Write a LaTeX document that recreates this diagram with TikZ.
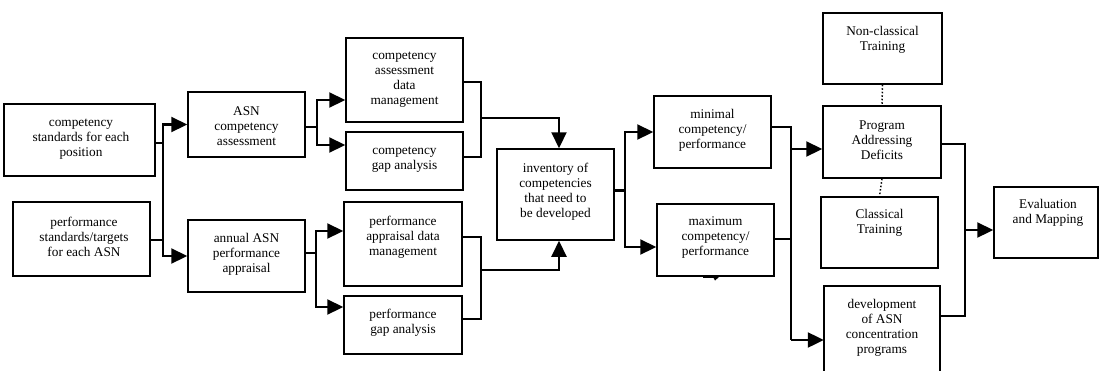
\documentclass[tikz,border=0pt]{standalone}
\usepackage{fontspec}
\setmainfont{Liberation Serif}
\usetikzlibrary{arrows.meta}
\begin{document}
\begin{tikzpicture}[x=1pt,y=-1pt,
  box/.style={draw, line width=1.5pt, rectangle, inner sep=0pt},
  txt/.style={align=center, font=\fontsize{13.3}{15}\selectfont, inner sep=0pt},
  conn/.style={line width=2.2pt},
  arr/.style={line width=2.2pt, -{Triangle[length=16pt 0 0,width=15pt 0 0]}},
  dots/.style={line width=1.5pt, dotted}]
\useasboundingbox (0,0) rectangle (1099,370);

% boxes
\node[box, minimum width=151pt, minimum height=72pt] (b1) at (79.5,140) {};
\node[box, minimum width=137pt, minimum height=74pt] (b2) at (81.5,239) {};
\node[box, minimum width=117pt, minimum height=65pt] (asn) at (246.5,124.5) {};
\node[box, minimum width=117pt, minimum height=72pt] (ann) at (246.5,256) {};
\node[box, minimum width=117pt, minimum height=84pt] (cadm) at (404.5,80) {};
\node[box, minimum width=117pt, minimum height=58pt] (cgap) at (404.5,161) {};
\node[box, minimum width=118pt, minimum height=84pt] (padm) at (403,244) {};
\node[box, minimum width=118pt, minimum height=58pt] (pgap) at (403,325) {};
\node[box, minimum width=117pt, minimum height=91pt] (inv) at (555.5,194.5) {};
\node[box, minimum width=117pt, minimum height=72pt] (mini) at (712.5,132) {};
\node[box, minimum width=117pt, minimum height=72pt] (maxi) at (715.5,240) {};
\node[box, minimum width=119pt, minimum height=71pt] (non) at (882.5,48.5) {};
\node[box, minimum width=118pt, minimum height=72pt] (prog) at (882,142) {};
\node[box, minimum width=117pt, minimum height=71pt] (cls) at (879.5,232.5) {};
\node[inner sep=0pt, minimum width=116pt, minimum height=86pt] (dev) at (882,329) {};
\draw[line width=1.5pt] (dev.south west) -- (dev.north west) -- (dev.north east) -- (dev.south east);
\node[box, minimum width=104pt, minimum height=71pt] (eval) at (1046,222.5) {};

% texts
\node[txt] (t-b1) at (81,139) {competency\\standards for each\\position};
\node[txt] (t-b2) at (84,237) {performance\\standards/targets\\for each ASN};
\node[txt] (t-asn) at (246.5,126) {ASN\\competency\\assessment};
\node[txt] (t-ann) at (246.5,254) {annual ASN\\performance\\appraisal};
\node[txt] (t-cadm) at (404.5,80) {competency\\assessment\\data\\management};
\node[txt] (t-cgap) at (404.5,160) {competency\\gap analysis};
\node[txt] (t-padm) at (403,237) {performance\\appraisal data\\management};
\node[txt] (t-pgap) at (403,323) {performance\\gap analysis};
\node[txt] (t-inv) at (555.5,192) {inventory of\\competencies\\that need to\\be developed};
\node[txt] (t-mini) at (712.5,130) {minimal\\competency/\\performance};
\node[txt] (t-maxi) at (715.5,238) {maximum\\competency/\\performance};
\node[txt] (t-non) at (882.5,40) {Non-classical\\Training};
\node[txt] (t-prog) at (882,140) {Program\\Addressing\\Deficits};
\node[txt] (t-cls) at (879.5,223) {Classical\\Training};
\node[txt] (t-dev) at (882,328) {development\\of ASN\\concentration\\programs};
\node[txt] (t-eval) at (1048,213) {Evaluation\\and Mapping};

% junction coordinates
\coordinate (J1) at (163,0);
\coordinate (J2) at (317,0);
\coordinate (J3) at (316,0);
\coordinate (J6) at (625,0);
\coordinate (J7) at (791,0);

% anchor points
\coordinate (b1E) at ([yshift=-3pt]b1.east);
\coordinate (b2E) at ([yshift=-1pt]b2.east);
\coordinate (asnE) at ([yshift=-2.5pt]asn.east);
\coordinate (annE) at ([yshift=3pt]ann.east);
\coordinate (cadmW) at ([yshift=-20pt]cadm.west);
\coordinate (cgapW) at ([yshift=16pt]cgap.west);
\coordinate (padmW) at ([yshift=13pt]padm.west);
\coordinate (pgapW) at ([yshift=18pt]pgap.west);
\coordinate (cadmE) at ([yshift=-2pt]cadm.east);
\coordinate (cgapE) at ([yshift=4pt]cgap.east);
\coordinate (padmE) at ([yshift=7pt]padm.east);
\coordinate (pgapE) at ([yshift=6pt]pgap.east);
\coordinate (invN) at ([xshift=3.5pt]inv.north);
\coordinate (invS) at ([xshift=3.5pt]inv.south);
\coordinate (invE) at ([yshift=4pt]inv.east);
\coordinate (maxiW) at ([yshift=-7pt]maxi.west);
\coordinate (miniE) at ([yshift=5pt]mini.east);
\coordinate (maxiE) at ([yshift=1pt]maxi.east);
\coordinate (progW) at ([yshift=-7pt]prog.west);
\coordinate (devW) at ([yshift=-11pt]dev.west);
\coordinate (progE) at ([yshift=-2pt]prog.east);
\coordinate (devE) at ([yshift=13pt]dev.east);
\coordinate (evalW) at ([yshift=-7.5pt]eval.west);
\coordinate (top4) at (481,118);
\coordinate (bot5) at (481,270);
\coordinate (mid8) at (965,230);

% stage 1
\draw[conn] (b1E) -- (b1E -| J1);
\draw[conn] (b2E) -- (b2E -| J1);
\draw[arr] (b1E -| J1) |- (asn.west);
\draw[arr] (b1E -| J1) |- (ann.west);
% stage 2
\draw[conn] (asnE) -- (asnE -| J2);
\draw[arr] (asnE -| J2) |- (cadmW);
\draw[arr] (asnE -| J2) |- (cgapW);
\draw[conn] (annE) -- (annE -| J3);
\draw[arr] (annE -| J3) |- (padmW);
\draw[arr] (annE -| J3) |- (pgapW);
% stage 3
\draw[conn] (cadmE) -| (top4) |- (cgapE);
\draw[arr] (top4) -| (invN);
\draw[conn] (padmE) -| (bot5) |- (pgapE);
\draw[arr] (bot5) -| (invS);
% stage 4
\draw[conn] (invE) -- (invE -| J6);
\draw[arr] (invE -| J6) |- (mini.west);
\draw[arr] (invE -| J6) |- (maxiW);
% stage 5
\draw[conn] (miniE) -| (devW -| J7);
\draw[conn] (maxiE) -- (maxiE -| J7);
\draw[arr] (progW -| J7) -- (progW);
\draw[arr] (devW -| J7) -- (devW);
% stage 6
\draw[conn] (progE) -| (mid8) |- (devE);
\draw[arr] (mid8) -- (evalW);
% dotted links
\draw[dots] (non.south) -- (prog.north);
\draw[dots] (prog.south) -- (cls.north);
% small mark under maximum box
\coordinate (m1) at (703,277.5);
\coordinate (m2) at (716,277.5);
\draw[line width=1.6pt] (m1) -- (m2);
\fill (713,277) -- (719,277) -- (715,280.5) -- cycle;
\end{tikzpicture}
\end{document}
